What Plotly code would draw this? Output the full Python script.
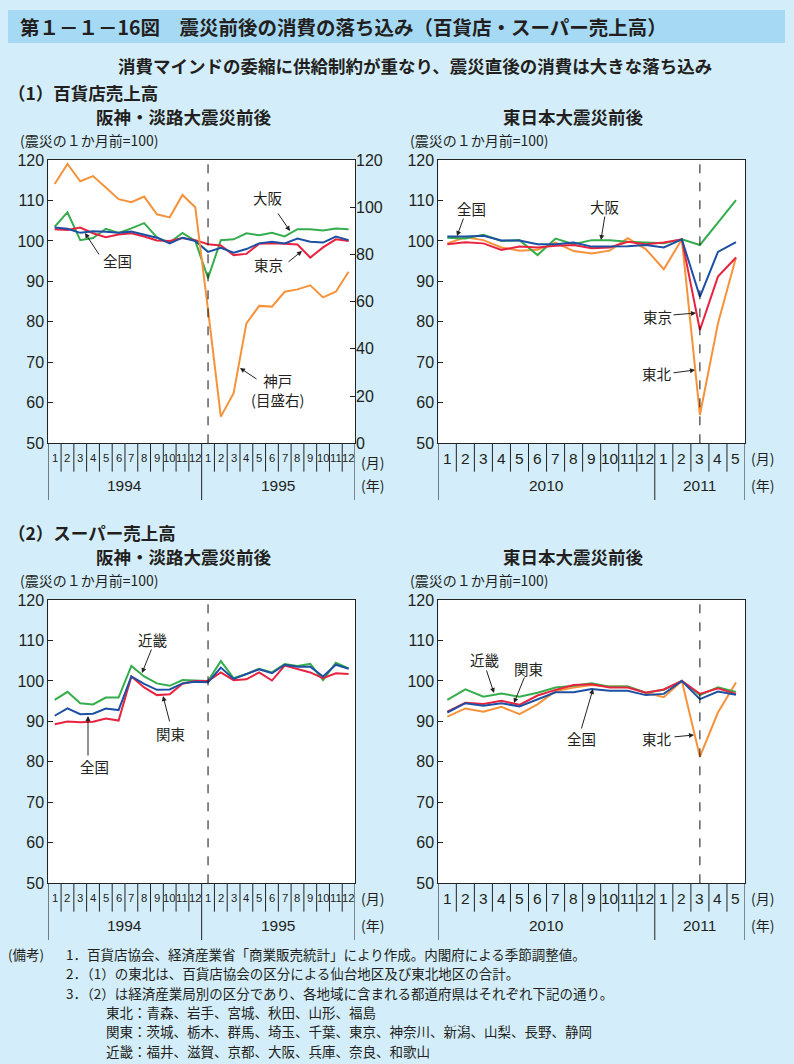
import plotly.graph_objects as go

W, H = 794, 1064
def px(x): return x / W
def py(y): return 1 - y / H

# ---------------- data ----------------
months_a = [str(m) for m in range(1, 13)] * 2          # 1994-1 .. 1995-12
years_a = ["1994", "1995"]
months_b = [str(m) for m in range(1, 13)] + [str(m) for m in range(1, 6)]  # 2010-1 .. 2011-5
years_b = ["2010", "2011"]

# (1) department stores, Hanshin-Awaji
dept_a_zenkoku = [103.3, 103.0, 102.0, 102.4, 102.3, 102.0, 102.3, 101.6, 100.8, 99.4, 100.8, 100.0,
                  97.3, 98.3, 97.1, 98.0, 99.4, 99.8, 99.4, 100.6, 99.8, 99.6, 101.1, 100.2]
dept_a_tokyo = [102.9, 102.7, 103.3, 101.9, 100.9, 101.6, 101.9, 101.1, 100.1, 100.0, 100.7, 100.2,
                99.2, 98.9, 96.5, 96.8, 99.3, 99.4, 99.3, 99.1, 95.9, 98.4, 100.4, 100.0]
dept_a_osaka = [103.5, 107.1, 100.2, 100.7, 103.0, 102.0, 103.1, 104.4, 100.9, 99.6, 102.0, 100.0,
                90.8, 100.2, 100.4, 101.9, 101.4, 102.0, 101.1, 102.9, 102.9, 102.6, 103.1, 102.9]
dept_a_kobe = [109.8, 118.3, 111.0, 113.2, 108.4, 103.4, 102.1, 104.5, 97.0, 95.7, 105.2, 100.0,
               56.5, 11.3, 21.2, 50.8, 58.2, 57.9, 64.2, 65.2, 66.9, 61.8, 64.2, 72.7]

# (1) department stores, Great East Japan
dept_b_zenkoku = [101.1, 101.1, 101.3, 100.1, 100.1, 99.2, 99.2, 99.6, 98.6, 98.7, 98.7, 99.0,
                  98.4, 100.4, 86.2, 97.3, 99.7]
dept_b_osaka = [100.8, 100.6, 101.5, 100.0, 100.2, 96.5, 100.6, 99.2, 100.2, 100.2, 99.8, 99.6,
                99.4, 100.4, 99.0, 104.5, 110.1]
dept_b_tokyo = [99.2, 99.7, 99.4, 97.8, 98.6, 98.4, 98.8, 99.0, 98.2, 98.4, 99.8, 99.2,
                99.6, 100.4, 78.0, 91.2, 95.9]
dept_b_tohoku = [99.4, 100.9, 100.2, 98.4, 97.6, 97.8, 99.6, 97.5, 96.9, 97.6, 100.7, 98.0,
                 93.0, 100.4, 57.0, 79.6, 95.9]

# (2) supermarkets, Hanshin-Awaji
sup_a_kinki = [95.3, 97.3, 94.5, 94.2, 95.9, 95.9, 103.7, 101.1, 99.4, 98.8, 100.2, 100.1,
               100.0, 104.9, 100.7, 101.7, 103.0, 102.1, 104.2, 103.7, 104.2, 100.2, 104.5, 103.1]
sup_a_zenkoku = [91.4, 93.2, 91.8, 91.9, 93.2, 92.8, 101.1, 99.3, 97.8, 97.9, 99.4, 99.8,
                 99.7, 103.3, 100.5, 101.7, 102.9, 101.9, 104.0, 103.5, 103.5, 101.1, 104.0, 103.0]
sup_a_kanto = [89.3, 90.0, 89.8, 89.9, 90.7, 90.2, 101.1, 98.4, 96.5, 96.7, 99.3, 100.0,
               100.0, 102.1, 100.2, 100.4, 102.1, 100.1, 103.8, 103.0, 102.1, 100.7, 101.9, 101.7]

# (2) supermarkets, Great East Japan
sup_b_kinki = [95.3, 97.9, 96.1, 96.9, 96.1, 97.1, 98.4, 98.8, 99.4, 98.6, 98.6, 97.1,
               97.8, 100.0, 96.5, 98.4, 97.3]
sup_b_kanto = [92.4, 94.6, 94.3, 95.1, 94.1, 96.4, 97.8, 99.0, 99.2, 98.4, 98.4, 97.1,
               97.9, 100.0, 96.8, 98.2, 96.8]
sup_b_zenkoku = [92.2, 94.5, 93.9, 94.5, 93.7, 95.5, 97.2, 97.2, 98.0, 97.6, 97.6, 96.5,
                 96.8, 100.0, 95.5, 97.4, 96.6]
sup_b_tohoku = [91.2, 93.2, 92.4, 93.6, 91.8, 94.2, 97.5, 98.4, 99.0, 98.6, 98.6, 97.1,
                96.0, 100.0, 81.3, 92.2, 99.6]

# ---------------- styling ----------------
ORANGE = "#f5923a"
GREEN = "#35ad4c"
BLUE = "#1d50a3"
RED = "#e8233f"
TXT = "#231f20"
BG = "#d3eefa"
JP = "Noto Sans CJK JP"
NUM = "Liberation Sans, Arial"

fig = go.Figure()

xa = list(range(1, len(months_a) + 1))
xb = list(range(1, len(months_b) + 1))

def add_line(x, y, color, xaxis, yaxis):
    fig.add_trace(go.Scatter(x=x, y=y, mode="lines", line=dict(color=color, width=2),
                             xaxis=xaxis, yaxis=yaxis, showlegend=False, hoverinfo="skip"))

# panel 1
add_line(xa, dept_a_kobe, ORANGE, "x", "y5")
add_line(xa, dept_a_osaka, GREEN, "x", "y")
add_line(xa, dept_a_tokyo, RED, "x", "y")
add_line(xa, dept_a_zenkoku, BLUE, "x", "y")
# panel 2
add_line(xb, dept_b_tohoku, ORANGE, "x2", "y2")
add_line(xb, dept_b_osaka, GREEN, "x2", "y2")
add_line(xb, dept_b_tokyo, RED, "x2", "y2")
add_line(xb, dept_b_zenkoku, BLUE, "x2", "y2")
# panel 3
add_line(xa, sup_a_kinki, GREEN, "x3", "y3")
add_line(xa, sup_a_kanto, RED, "x3", "y3")
add_line(xa, sup_a_zenkoku, BLUE, "x3", "y3")
# panel 4
add_line(xb, sup_b_tohoku, ORANGE, "x4", "y4")
add_line(xb, sup_b_kinki, GREEN, "x4", "y4")
add_line(xb, sup_b_kanto, RED, "x4", "y4")
add_line(xb, sup_b_zenkoku, BLUE, "x4", "y4")

# panel geometry (pixels)
panels = {
    1: dict(x0=48.3, x1=355, y0=160, y1=443.3, n=len(months_a), months=months_a, years=years_a,
            split=12, dash=13, msize=11.3, mo_dy=19),
    2: dict(x0=438.3, x1=745, y0=160, y1=443.3, n=len(months_b), months=months_b, years=years_b,
            split=12, dash=15, msize=15.5, mo_dy=15),
    3: dict(x0=48.3, x1=355, y0=600, y1=883.3, n=len(months_a), months=months_a, years=years_a,
            split=12, dash=13, msize=11.3, mo_dy=15),
    4: dict(x0=438.3, x1=745, y0=600, y1=883.3, n=len(months_b), months=months_b, years=years_b,
            split=12, dash=15, msize=15.5, mo_dy=15),
}

layout = dict(width=W, height=H, margin=dict(l=0, r=0, t=0, b=0, autoexpand=False),
              paper_bgcolor=BG, plot_bgcolor="white", showlegend=False)

shapes = []
annotations = []

# title band
shapes.append(dict(type="rect", xref="paper", yref="paper", x0=px(8), x1=px(785), y0=py(43), y1=py(10),
                   fillcolor="#a6d9f4", line=dict(width=0), layer="below"))

for k, p in panels.items():
    sfx = "" if k == 1 else str(k)
    xname = "xaxis" + sfx
    yname = "yaxis" + sfx
    n = p["n"]
    layout[xname] = dict(domain=[px(p["x0"]), px(p["x1"])], range=[0.5, n + 0.5],
                         showticklabels=False, ticks="", showgrid=False, zeroline=False,
                         showline=True, linecolor="#222", linewidth=1, mirror=True,
                         anchor="y" + sfx, automargin=False)
    layout[yname] = dict(domain=[py(p["y1"]), py(p["y0"])], range=[50, 120], dtick=10,
                         tick0=50, ticks="inside", ticklen=5, tickcolor="#222",
                         showgrid=False, zeroline=False, showline=True, linecolor="#222",
                         linewidth=1, mirror=True, automargin=False,
                         tickfont=dict(family=NUM, size=16, color=TXT),
                         anchor="x" + sfx)
    xr = "x" + sfx
    ybot = p["y1"]
    # month separators and labels
    for b in range(0, n + 1):
        longl = b in (0, p["split"], n)
        shapes.append(dict(type="line", xref=xr, yref="paper", x0=b + 0.5, x1=b + 0.5,
                           y0=py(ybot), y1=py(ybot + (56.7 if longl else 28.4)),
                           line=dict(color="#222", width=1)))
    for i, m in enumerate(p["months"]):
        annotations.append(dict(x=i + 1, y=py(ybot + 15), xref=xr, yref="paper", text=m,
                                showarrow=False, xanchor="center", yanchor="middle", borderpad=0,
                                font=dict(family=NUM, size=p["msize"], color=TXT)))
    # year labels
    s = p["split"]
    annotations.append(dict(x=(1 + s) / 2, y=py(ybot + 42), xref=xr, yref="paper", text=p["years"][0],
                            showarrow=False, xanchor="center", yanchor="middle",
                            font=dict(family=NUM, size=15.5, color=TXT)))
    annotations.append(dict(x=(s + 1 + n) / 2, y=py(ybot + 42), xref=xr, yref="paper", text=p["years"][1],
                            showarrow=False, xanchor="center", yanchor="middle",
                            font=dict(family=NUM, size=15.5, color=TXT)))
    # (月) (年)
    annotations.append(dict(x=px(p["x1"] + 4), y=py(ybot + p["mo_dy"]), xref="paper", yref="paper",
                            text="(月)", showarrow=False, xanchor="left", yanchor="middle",
                            font=dict(family=JP, size=14, color=TXT)))
    annotations.append(dict(x=px(p["x1"] + 4), y=py(ybot + 42), xref="paper", yref="paper", text="(年)",
                            showarrow=False, xanchor="left", yanchor="middle",
                            font=dict(family=JP, size=14, color=TXT)))
    # dashed vertical line at the quake month
    shapes.append(dict(type="line", xref=xr, yref="paper", x0=p["dash"], x1=p["dash"],
                       y0=py(p["y1"]), y1=py(p["y0"]), line=dict(color="#111", width=1, dash="dash")))
    # unit caption
    annotations.append(dict(x=px(p["x0"] - 30), y=py(p["y0"] - 20),
                            xref="paper", yref="paper", text="(震災の１か月前=100)", showarrow=False,
                            xanchor="left", yanchor="middle", font=dict(family=JP, size=14, color=TXT)))

# right axis for Kobe
layout["yaxis5"] = dict(domain=[py(443.3), py(160)], range=[0, 120], dtick=20, tick0=0,
                        overlaying="y", side="right", anchor="x", ticks="inside", ticklen=5,
                        tickcolor="#222", showgrid=False, zeroline=False, showline=False,
                        automargin=False,
                        tickfont=dict(family=NUM, size=16, color=TXT))

# headings
def text(x, y, t, size, bold=False, anchor="left", family=JP, align="left"):
    annotations.append(dict(x=px(x), y=py(y), xref="paper", yref="paper",
                            text=("<b>%s</b>" % t) if bold else t, showarrow=False,
                            xanchor=anchor, yanchor="middle", align=align,
                            font=dict(family=family, size=size, color=TXT)))

text(18, 26.5, "第１－１－16図　震災前後の消費の落ち込み（百貨店・スーパー売上高）", 19.5, True)
text(415, 66, "消費マインドの委縮に供給制約が重なり、震災直後の消費は大きな落ち込み", 17.5, True, "center")
text(6, 93, "（1）百貨店売上高", 17.5, True)
text(183, 116, "阪神・淡路大震災前後", 17.5, True, "center")
text(573, 116, "東日本大震災前後", 17.5, True, "center")
text(6, 532, "（2）スーパー売上高", 17.5, True)
text(183, 556, "阪神・淡路大震災前後", 17.5, True, "center")
text(573, 556, "東日本大震災前後", 17.5, True, "center")

# series labels and arrows
def label(x, y, t):
    text(x, y, t, 14.5, False, "center", align="center")

def arrow(hx, hy, tx, ty):
    annotations.append(dict(x=px(hx), y=py(hy), xref="paper", yref="paper", text="",
                            showarrow=True, ax=tx - hx, ay=ty - hy, axref="pixel", ayref="pixel",
                            arrowhead=2, arrowsize=1, arrowwidth=1, arrowcolor="#222",
                            standoff=0, startstandoff=0))

# panel 1
label(117, 260, "全国"); arrow(85, 233, 100, 256)
label(268, 198, "大阪"); arrow(290, 231, 277, 212)
label(268, 264, "東京"); arrow(302, 251, 287, 263)
label(277, 390, "神戸<br>(目盛右)"); arrow(240, 368, 258, 380)
# panel 2
label(472, 208, "全国"); arrow(457, 236, 464, 217)
label(605, 206, "大阪"); arrow(601, 240, 605, 215)
label(657, 316, "東京"); arrow(696, 313, 672, 315)
label(657, 374, "東北"); arrow(695, 370, 672, 373)
# panel 3
label(152, 639, "近畿"); arrow(142, 673, 152, 648)
label(170, 733, "関東"); arrow(163, 696, 170, 723)
label(94, 766, "全国"); arrow(88, 716, 88, 757)
# panel 4
label(484, 659, "近畿"); arrow(494, 693, 486, 669)
label(528, 668, "関東"); arrow(514, 703, 525, 676)
label(581, 738, "全国"); arrow(593, 689, 581, 730)
label(657, 738, "東北"); arrow(694, 735, 673, 737)

# notes
note_head = "(備考)"
note_lines = [
    (64, "1．百貨店協会、経済産業省「商業販売統計」により作成。内閣府による季節調整値。"),
    (64, "2．（1）の東北は、百貨店協会の区分による仙台地区及び東北地区の合計。"),
    (64, "3．（2）は経済産業局別の区分であり、各地域に含まれる都道府県はそれぞれ下記の通り。"),
    (104, "東北：青森、岩手、宮城、秋田、山形、福島"),
    (104, "関東：茨城、栃木、群馬、埼玉、千葉、東京、神奈川、新潟、山梨、長野、静岡"),
    (104, "近畿：福井、滋賀、京都、大阪、兵庫、奈良、和歌山"),
]
text(6, 954, note_head, 13.5)
for j, (nx, t) in enumerate(note_lines):
    text(nx, 954 + 19.3 * j, t, 13.5)

layout["shapes"] = shapes
layout["annotations"] = annotations
fig.update_layout(**layout)
fig.write_html("out.html", config={"displayModeBar": False},
               post_script="document.body.style.margin='0';document.body.style.overflow='hidden';")
